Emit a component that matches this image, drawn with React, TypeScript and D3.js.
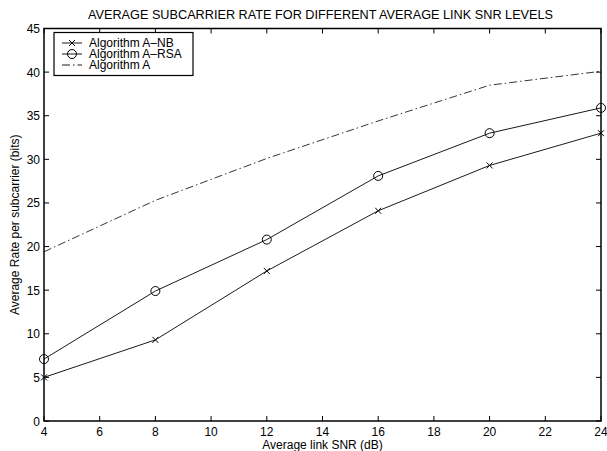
import React from 'react';
import * as d3 from 'd3';

const snr = [4, 8, 12, 16, 20, 24];
const rateNB = [5.0, 9.3, 17.2, 24.1, 29.3, 33.0];
const rateRSA = [7.1, 14.9, 20.8, 28.1, 33.0, 35.9];
const rateA = [19.4, 25.3, 30.1, 34.4, 38.5, 40.1];
const xTicks = [4, 6, 8, 10, 12, 14, 16, 18, 20, 22, 24];
const yTicks = [0, 5, 10, 15, 20, 25, 30, 35, 40, 45];
const legendLabels = ['Algorithm A\u2013NB', 'Algorithm A\u2013RSA', 'Algorithm A'];

const W = 607;
const H = 451;
const left = 44;
const right = 601;
const top = 28.5;
const bottom = 421;
const font = 'Liberation Sans, Arial, Helvetica, sans-serif';
const fs = 12;

const App: React.FC = () => {
  const x = d3.scaleLinear().domain([4, 24]).range([left, right]);
  const y = d3.scaleLinear().domain([0, 45]).range([bottom, top]);

  const line = (vals: number[]) =>
    d3.line<number>()
      .x((_, i) => x(snr[i]))
      .y(d => y(d))(vals) || '';

  const cross = (cx: number, cy: number, k: string) => (
    <path key={k} d={`M${cx - 3},${cy - 3}L${cx + 3},${cy + 3}M${cx - 3},${cy + 3}L${cx + 3},${cy - 3}`} stroke="#000" strokeWidth={1} fill="none" />
  );
  const ring = (cx: number, cy: number, k: string) => (
    <circle key={k} cx={cx} cy={cy} r={4.5} stroke="#000" strokeWidth={1} fill="none" />
  );

  const dash = '8,3,1.5,3';
  const legX = 54;
  const legY = 32.5;
  const rowY = [43, 54, 65];

  return (
    <svg width={W} height={H} style={{ position: 'absolute', left: 0, top: 0, background: '#fff' }} fontFamily={font}>
      <rect x={0} y={0} width={W} height={H} fill="#fff" />
      <text x={(left + right) / 2 - 2} y={18.5} textAnchor="middle" fontSize={12.7}>
        AVERAGE SUBCARRIER RATE FOR DIFFERENT AVERAGE LINK SNR LEVELS
      </text>

      {/* ticks */}
      {xTicks.map(t => (
        <g key={'x' + t}>
          <line x1={x(t)} x2={x(t)} y1={bottom} y2={bottom - 5} stroke="#000" />
          <line x1={x(t)} x2={x(t)} y1={top} y2={top + 5} stroke="#000" />
          <text x={x(t)} y={bottom + 15} textAnchor="middle" fontSize={fs}>{t}</text>
        </g>
      ))}
      {yTicks.map(t => (
        <g key={'y' + t}>
          <line x1={left} x2={left + 5} y1={y(t)} y2={y(t)} stroke="#000" />
          <line x1={right} x2={right - 5} y1={y(t)} y2={y(t)} stroke="#000" />
          <text x={left - 4} y={y(t) + 4.5} textAnchor="end" fontSize={fs}>{t}</text>
        </g>
      ))}
      <rect x={left} y={top} width={right - left} height={bottom - top} fill="none" stroke="#000" strokeWidth={1.5} />

      {/* series */}
      <path d={line(rateA)} fill="none" stroke="#000" strokeWidth={0.8} strokeDasharray={dash} />
      <path d={line(rateRSA)} fill="none" stroke="#000" strokeWidth={0.9} />
      <path d={line(rateNB)} fill="none" stroke="#000" strokeWidth={0.9} />
      {rateRSA.map((v, i) => ring(x(snr[i]), y(v), 'r' + i))}
      {rateNB.map((v, i) => cross(x(snr[i]), y(v), 'n' + i))}

      {/* legend */}
      <rect x={legX} y={legY} width={139} height={43} fill="#fff" stroke="#000" strokeWidth={1.2} />
      {legendLabels.map((lab, i) => (
        <g key={lab}>
          <line x1={62} x2={82} y1={rowY[i]} y2={rowY[i]} stroke="#000" strokeWidth={0.9}
            strokeDasharray={i === 2 ? dash : undefined} />
          {i === 0 && cross(72, rowY[i], 'lc')}
          {i === 1 && ring(72, rowY[i], 'lr')}
          <text x={89} y={rowY[i] + 4.2} fontSize={fs}>{lab}</text>
        </g>
      ))}

      <text x={(left + right) / 2} y={448.5} textAnchor="middle" fontSize={fs}>Average link SNR (dB)</text>
      <text transform={`translate(15,${(top + bottom) / 2}) rotate(-90)`} textAnchor="middle" dy="0.35em" fontSize={fs}>
        Average Rate per subcarrier (bits)
      </text>
    </svg>
  );
};

export default App;
